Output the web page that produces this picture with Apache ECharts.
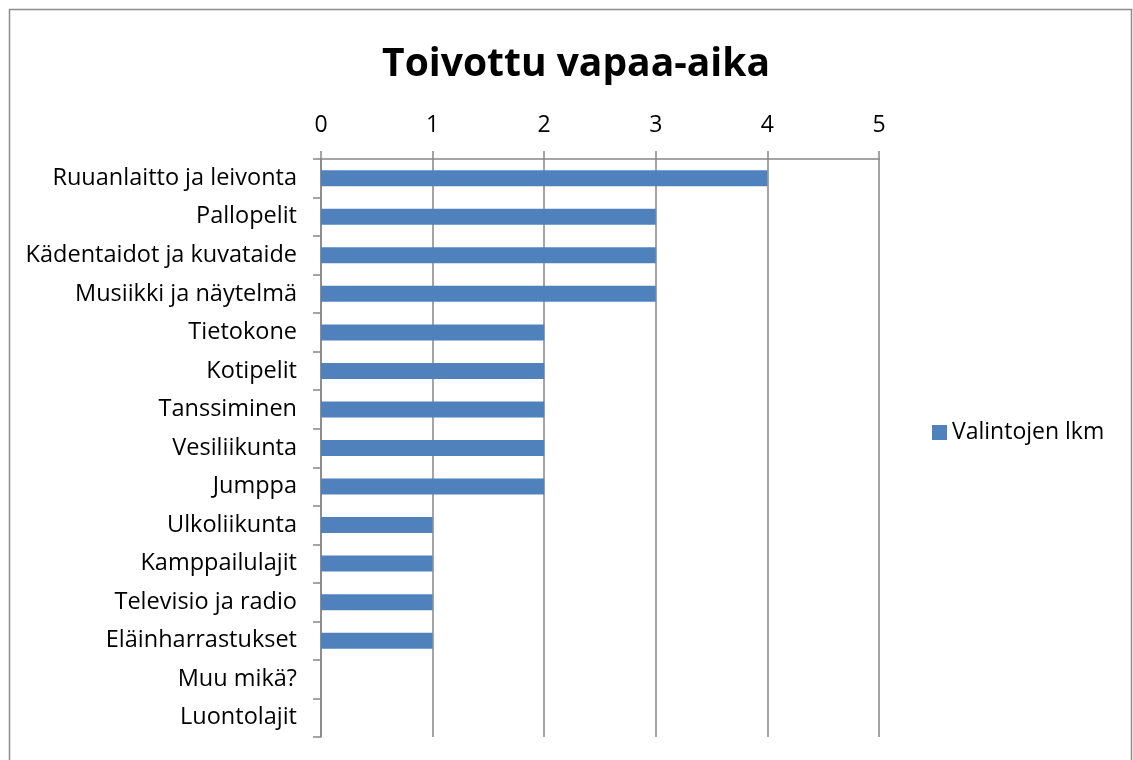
<!DOCTYPE html>
<html>
<head>
<meta charset="utf-8">
<script src="https://cdn.jsdelivr.net/npm/echarts@6/dist/echarts.min.js"></script>
<style>
  html, body { margin: 0; padding: 0; background: #fff; }
  #main { width: 1133px; height: 760px; }
</style>
</head>
<body>
<div id="main"></div>
<script>
var categories = ['Ruuanlaitto ja leivonta', 'Pallopelit', 'Kädentaidot ja kuvataide',
    'Musiikki ja näytelmä', 'Tietokone', 'Kotipelit', 'Tanssiminen', 'Vesiliikunta',
    'Jumppa', 'Ulkoliikunta', 'Kamppailulajit', 'Televisio ja radio',
    'Eläinharrastukset', 'Muu mikä?', 'Luontolajit'];
var valinnat = [4, 3, 3, 3, 2, 2, 2, 2, 2, 1, 1, 1, 1, 0, 0];
var seriesName = 'Valintojen lkm';
var xMin = 0, xMax = 5, xStep = 1;

var chart = echarts.init(document.getElementById('main'));
var font = 'Open Sans';
chart.setOption({
    animation: false,
    title: {
        text: 'Toivottu vapaa-aika',
        left: 571,
        top: 40,
        textAlign: 'center',
        textStyle: { fontFamily: font, fontSize: 39, fontWeight: 'bold', color: '#000' }
    },
    graphic: [{
        type: 'rect',
        shape: { x: 9.5, y: 9.5, width: 1122, height: 800 },
        style: { fill: 'none', stroke: '#8c8c8c', lineWidth: 1.5 },
        silent: true
    }],
    legend: {
        data: [seriesName],
        left: 927,
        top: 416,
        itemWidth: 15,
        itemHeight: 15,
        itemGap: 6,
        icon: 'rect',
        textStyle: { fontFamily: font, fontSize: 23, color: '#000' }
    },
    grid: { left: 321, right: 254, top: 159, bottom: 23 },
    xAxis: {
        type: 'value',
        position: 'top',
        min: xMin,
        max: xMax,
        interval: xStep,
        axisLine: { show: true, lineStyle: { color: '#868686', width: 1.5 } },
        axisTick: { show: true, length: 8, lineStyle: { color: '#868686', width: 1.5 } },
        axisLabel: { fontFamily: font, fontSize: 23, color: '#000', margin: 22 },
        splitLine: { show: true, lineStyle: { color: '#868686', width: 1.5 } }
    },
    yAxis: {
        type: 'category',
        data: categories,
        inverse: true,
        axisLine: { show: true, lineStyle: { color: '#868686', width: 1.5 } },
        axisTick: { show: true, length: 8, lineStyle: { color: '#868686', width: 1.5 } },
        axisLabel: { fontFamily: font, fontSize: 23.5, color: '#000', margin: 24 },
        splitLine: { show: false }
    },
    series: [{
        name: seriesName,
        type: 'bar',
        data: valinnat,
        barWidth: 16,
        itemStyle: { color: '#4f81bd' }
    }]
});
</script>
</body>
</html>
